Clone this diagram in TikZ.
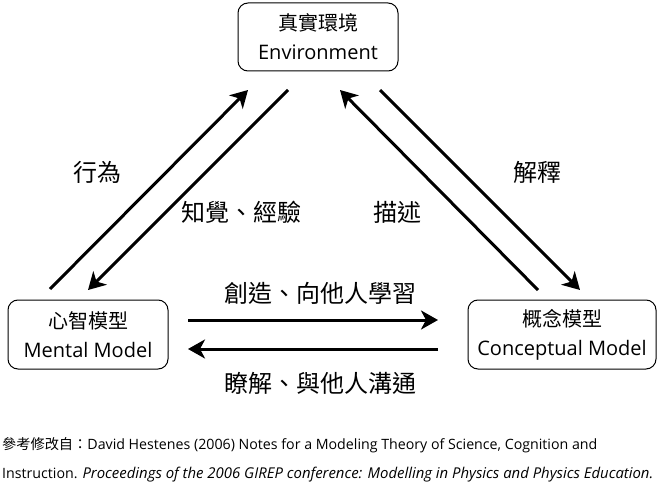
\documentclass[tikz,border=0pt]{standalone}
\usepackage{fontspec}
\setmainfont{Open Sans}
\newfontfamily\cjk{Noto Sans CJK TC}
\usetikzlibrary{arrows.meta}
\tikzset{
  modelbox/.style={draw=black, line width=1pt, rounded corners=10pt, align=center,
    inner sep=0pt, font=\fontsize{20}{29}\selectfont},
  flow/.style={line width=3pt, -{Stealth[length=17pt,width=19pt,inset=5pt]}},
  lbl/.style={font=\cjk\fontsize{24}{26}\selectfont, inner sep=0pt},
  ref/.style={anchor=base west, inner sep=0pt, font=\fontsize{14.2}{16}\selectfont}
}
\begin{document}
\begin{tikzpicture}[x=1pt,y=-1pt]
\useasboundingbox (0,0) rectangle (659,484);
% boxes
\node[modelbox, minimum width=160pt, minimum height=68pt] (env) at (318,37)
  {{\cjk 真實環境}\\Environment};
\node[modelbox, minimum width=160pt, minimum height=69pt] (mental) at (88,334.5)
  {{\cjk 心智模型}\\Mental Model};
\node[modelbox, minimum width=188pt, minimum height=69pt] (concept) at (562,334.5)
  {{\cjk 概念模型}\\Conceptual Model};
% arrow end points
\coordinate (a1s) at (50,289);  \coordinate (a1e) at (248,90);
\coordinate (a2s) at (288,90);  \coordinate (a2e) at (88,290);
\coordinate (a3s) at (538,290); \coordinate (a3e) at (340,90);
\coordinate (a4s) at (380,90);  \coordinate (a4e) at (580,290);
\coordinate (a5s) at (188,320); \coordinate (a5e) at (438,320);
\coordinate (a6s) at (438,349); \coordinate (a6e) at (188,349);
\draw[flow] (a1s) -- (a1e);
\draw[flow] (a2s) -- (a2e);
\draw[flow] (a3s) -- (a3e);
\draw[flow] (a4s) -- (a4e);
\draw[flow] (a5s) -- (a5e);
\draw[flow] (a6s) -- (a6e);
% labels
\node[lbl] (l1) at (97,172) {行為};
\node[lbl] (l2) at (241.5,212) {知覺、經驗};
\node[lbl] (l3) at (397,212) {描述};
\node[lbl] (l4) at (537,172) {解釋};
\node[lbl] (l5) at (320.5,293) {創造、向他人學習};
\node[lbl] (l6) at (320.5,383) {瞭解、與他人溝通};
% reference
\node[ref] (r1) at (2,449) {{\cjk 參考修改自：}David Hestenes (2006) Notes for a Modeling Theory of Science, Cognition and};
\node[ref] (r2) at (2,478) {Instruction. {\fontsize{14.9}{16}\selectfont\itshape Proceedings of the 2006 GIREP conference: Modelling in Physics and Physics Education.}};
\end{tikzpicture}
\end{document}
